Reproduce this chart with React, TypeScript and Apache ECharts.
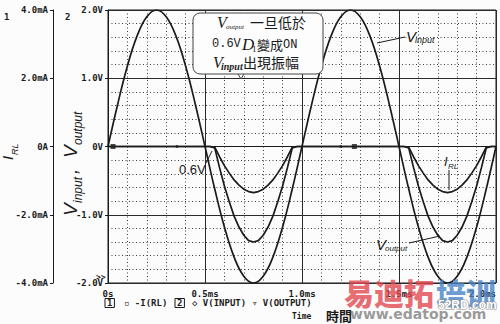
import React, { useEffect, useRef } from "react";
import * as echarts from "echarts";

// ---- data ----
const TIME_MS = [
  0, 0.05, 0.1, 0.15, 0.2, 0.25, 0.3, 0.35, 0.4, 0.45, 0.5, 0.55, 0.6, 0.65, 0.7, 0.75, 0.8, 0.85, 0.9, 0.95,
  1.0, 1.05, 1.1, 1.15, 1.2, 1.25, 1.3, 1.35, 1.4, 1.45, 1.5, 1.55, 1.6, 1.65, 1.7, 1.75, 1.8, 1.85, 1.9, 1.95, 2.0,
];
const V_INPUT = [
  0, 0.62, 1.18, 1.62, 1.9, 2.0, 1.9, 1.62, 1.18, 0.62, 0, -0.62, -1.18, -1.62, -1.9, -2.0, -1.9, -1.62, -1.18, -0.62,
  0, 0.62, 1.18, 1.62, 1.9, 2.0, 1.9, 1.62, 1.18, 0.62, 0, -0.62, -1.18, -1.62, -1.9, -2.0, -1.9, -1.62, -1.18, -0.62, 0,
];
const LOBE_TIME_MS = [
  0, 0.5, 0.525, 0.55, 0.575, 0.6, 0.625, 0.65, 0.675, 0.7, 0.725, 0.75, 0.775, 0.8, 0.825, 0.85, 0.875, 0.9, 0.925, 0.95, 0.975,
  1.5, 1.525, 1.55, 1.575, 1.6, 1.625, 1.65, 1.675, 1.7, 1.725, 1.75, 1.775, 1.8, 1.825, 1.85, 1.875, 1.9, 1.925, 1.95, 1.975, 2.0,
];
const V_OUTPUT = [
  0, 0, 0, -0.02, -0.31, -0.58, -0.81, -1.02, -1.18, -1.3, -1.38, -1.4, -1.38, -1.3, -1.18, -1.02, -0.81, -0.58, -0.31, -0.02, 0,
  0, 0, -0.02, -0.31, -0.58, -0.81, -1.02, -1.18, -1.3, -1.38, -1.4, -1.38, -1.3, -1.18, -1.02, -0.81, -0.58, -0.31, -0.02, 0, 0,
];
const I_RL_MA = [
  0, 0, 0, -0.02, -0.3, -0.56, -0.78, -0.98, -1.13, -1.25, -1.32, -1.35, -1.32, -1.25, -1.13, -0.98, -0.78, -0.56, -0.3, -0.02, 0,
  0, 0, -0.02, -0.3, -0.56, -0.78, -0.98, -1.13, -1.25, -1.32, -1.35, -1.32, -1.25, -1.13, -0.98, -0.78, -0.56, -0.3, -0.02, 0, 0,
];
const X_TICK_LABELS = ["0s", "0.5ms", "1.0ms", "1.5ms", "2.0ms"];
const V_TICK_LABELS = ["-2.0V", "-1.0V", "0V", "1.0V", "2.0V"];
const I_TICK_LABELS = ["-4.0mA", "-2.0mA", "0A", "2.0mA", "4.0mA"];
const MARKER_TIME_MS = [0.026, 0.356, 1.2, 1.27];
const MARKER_SHAPES = ["rect", "circle", "circle", "rect"];

const INK = "#1b1b1b";
const MONO = "'DejaVu Sans Mono', monospace";
const SERIF = "'Liberation Serif', serif";
const SANS = "'Liberation Sans', sans-serif";
const CJK = "'Noto Sans CJK TC', sans-serif";

function txt(text: string, x: number, y: number, font: string, extra: any = {}) {
  return {
    type: "text",
    z: 100,
    style: { text, x, y, font, fill: INK, align: "left", verticalAlign: "middle", ...extra },
  };
}

export default function App() {
  const ref = useRef<HTMLDivElement>(null);
  useEffect(() => {
    document.body.style.margin = "0";
    const chart = echarts.init(ref.current!, null, { renderer: "svg" });
    const lineStyle = { color: INK, width: 1.7 };
    const minorGrid = { show: true, lineStyle: { color: "#3a3a3a", width: 1, type: [1, 2.5] } };
    const option: any = {
      animation: false,
      backgroundColor: "#fcfcfc",
      grid: { left: 108, right: 4, top: 10, bottom: 41, show: true, borderColor: INK, borderWidth: 1 },
      xAxis: {
        type: "value",
        min: 0,
        max: 2,
        interval: 0.5,
        axisLine: { show: true, lineStyle: { color: INK } },
        axisTick: { show: false },
        axisLabel: {
          margin: 6,
          color: INK,
          fontFamily: MONO,
          fontWeight: "bold",
          fontSize: 9,
          alignMaxLabel: "right",
          formatter: (v: number) => X_TICK_LABELS[Math.round(v / 0.5)],
        },
        splitLine: { show: true, lineStyle: { color: "#2a2a2a", width: 1 } },
        minorTick: { show: false, splitNumber: 5 },
        minorSplitLine: minorGrid,
      },
      yAxis: [
        {
          type: "value",
          min: -2,
          max: 2,
          interval: 1,
          position: "left",
          axisLine: { show: true, lineStyle: { color: INK, width: 1 } },
          axisTick: { show: true, length: 3, lineStyle: { color: INK } },
          axisLabel: {
            margin: 5,
            color: INK,
            fontFamily: MONO,
            fontWeight: "bold",
            fontSize: 9,
            formatter: (v: number) => V_TICK_LABELS[Math.round(v) + 2],
          },
          splitLine: { show: true, lineStyle: { color: "#2a2a2a", width: 1 } },
          minorTick: { show: false, splitNumber: 5 },
          minorSplitLine: minorGrid,
        },
        {
          type: "value",
          min: -4,
          max: 4,
          interval: 2,
          position: "left",
          offset: 55,
          axisLine: { show: true, lineStyle: { color: INK, width: 1 } },
          axisTick: { show: true, length: 3, lineStyle: { color: INK } },
          axisLabel: {
            margin: 5,
            color: INK,
            fontFamily: MONO,
            fontWeight: "bold",
            fontSize: 9,
            formatter: (v: number) => I_TICK_LABELS[Math.round(v / 2) + 2],
          },
          splitLine: { show: false },
        },
      ],
      series: [
        {
          name: "V(INPUT)",
          type: "line",
          yAxisIndex: 0,
          smooth: 0.4,
          showSymbol: false,
          lineStyle,
          data: TIME_MS.map((t, i) => [t, V_INPUT[i]]),
        },
        {
          name: "V(OUTPUT)",
          type: "line",
          yAxisIndex: 0,
          showSymbol: false,
          lineStyle,
          data: LOBE_TIME_MS.map((t, i) => [t, V_OUTPUT[i]]),
        },
        {
          name: "-I(RL)",
          type: "line",
          yAxisIndex: 1,
          showSymbol: false,
          lineStyle,
          data: LOBE_TIME_MS.map((t, i) => [t, I_RL_MA[i]]),
        },
        {
          name: "markers",
          type: "scatter",
          yAxisIndex: 0,
          itemStyle: { color: INK },
          z: 5,
          data: MARKER_TIME_MS.map((t, i) => ({
            value: [t, 0],
            symbol: MARKER_SHAPES[i],
            symbolSize: MARKER_SHAPES[i] === "rect" ? 5 : 3,
          })),
        },
      ],
      graphic: [
        // axis numbers and names
        txt("1", 4, 17, `bold 9px ${MONO}`),
        txt("2", 65, 17, `bold 9px ${MONO}`),
        txt(">>", 96, 277, `bold 8px ${MONO}`),
        {
          type: "group",
          x: 15,
          y: 160,
          rotation: Math.PI / 2,
          z: 100,
          children: [
            { type: "text", style: { text: "I", x: 0, y: 0, font: `italic 15px ${SANS}`, fill: INK, verticalAlign: "bottom" } },
            { type: "text", style: { text: "RL", x: 5, y: 4, font: `italic 9px ${SANS}`, fill: INK, verticalAlign: "bottom" } },
          ],
        },
        {
          type: "group",
          x: 80,
          y: 216,
          rotation: Math.PI / 2,
          z: 100,
          children: [
            { type: "text", style: { text: "V", x: 0, y: 0, font: `italic 19px ${SANS}`, fill: INK, verticalAlign: "bottom" } },
            { type: "text", style: { text: "input", x: 13, y: 4, font: `italic 12px ${SANS}`, fill: INK, verticalAlign: "bottom" } },
            { type: "text", style: { text: ",", x: 42, y: 0, font: `italic 19px ${SANS}`, fill: INK, verticalAlign: "bottom" } },
            { type: "text", style: { text: "V", x: 58, y: 0, font: `italic 19px ${SANS}`, fill: INK, verticalAlign: "bottom" } },
            { type: "text", style: { text: "output", x: 71, y: 4, font: `italic 12px ${SANS}`, fill: INK, verticalAlign: "bottom" } },
          ],
        },
        // callout box
        {
          type: "rect",
          z: 90,
          shape: { x: 193, y: 13, width: 130, height: 61, r: 7 },
          style: { fill: "#fdfdfd", stroke: "#444", lineWidth: 1 },
        },
        {
          type: "polyline",
          z: 91,
          shape: { points: [[238, 74], [241, 79], [244, 74]] },
          style: { stroke: "#444", fill: "none", lineWidth: 1 },
        },
        txt("V", 217, 22, `italic 16px ${SERIF}`),
        txt("output", 226, 27, `italic 7px ${SERIF}`),
        txt("一旦低於", 250, 22, `14px ${CJK}`),
        txt("0.6V", 212, 44, `12px 'Liberation Mono', monospace`),
        txt("D", 242, 44, `italic 17px ${SERIF}`),
        txt("1", 252, 49, `9px ${SERIF}`),
        txt("變成", 257, 44, `13px ${CJK}`),
        txt("ON", 283, 45, `12px 'Liberation Mono', monospace`),
        txt("V", 213, 62, `italic 16px ${SERIF}`),
        txt("input", 221, 66, `italic bold 10px ${SERIF}`),
        txt("出現振幅", 243, 62, `14px ${CJK}`),
        // curve annotations
        { type: "line", z: 95, shape: { x1: 377, y1: 43, x2: 405, y2: 37 }, style: { stroke: INK, lineWidth: 1 } },
        txt("V", 406, 36, `italic 15px ${SANS}`),
        txt("input", 415, 40, `italic 9px ${SANS}`),
        txt("I", 444, 161, `italic 13px ${SANS}`),
        txt("RL", 448, 166, `italic 8px ${SANS}`),
        { type: "line", z: 95, shape: { x1: 449, y1: 170, x2: 449, y2: 190 }, style: { stroke: INK, lineWidth: 1 } },
        txt("V", 376, 244, `italic 15px ${SANS}`),
        txt("output", 385, 248, `italic 8px ${SANS}`),
        { type: "line", z: 95, shape: { x1: 409, y1: 243, x2: 440, y2: 236 }, style: { stroke: INK, lineWidth: 1 } },
        txt("0.6V", 179, 169, `13px ${SANS}`),
        { type: "line", z: 95, shape: { x1: 206, y1: 163, x2: 212, y2: 151 }, style: { stroke: INK, lineWidth: 1 } },
        // legend row
        txt("1", 105, 303, `bold 9px ${MONO}`, { borderColor: INK, borderWidth: 1, padding: [0, 2, 0, 2] }),
        txt("▫ -I(RL)", 124, 303, `bold 9px ${MONO}`),
        txt("2", 175, 303, `bold 9px ${MONO}`, { borderColor: INK, borderWidth: 1, padding: [0, 2, 0, 2] }),
        txt("◇ V(INPUT)", 192, 303, `bold 9px ${MONO}`),
        txt("▿ V(OUTPUT)", 252, 303, `bold 9px ${MONO}`),
        txt("Time", 292, 316, `bold 8px ${MONO}`),
        txt("時間", 326, 315, `bold 13px ${CJK}`),
        // watermark
        txt("易迪拓", 344, 292, `900 30px 'Noto Sans CJK SC'`, { fill: "rgba(226,70,80,0.8)" }),
        txt("培训", 436, 292, `900 30px 'Noto Sans CJK SC'`, { fill: "rgba(70,130,200,0.8)" }),
        txt("52RD.com", 438, 305, `bold 12px ${SANS}`, { fill: "#ffffff", stroke: "#888", lineWidth: 1 }),
        txt("www.edatop.com", 350, 314, `bold 14px 'DejaVu Sans'`, { fill: "rgba(110,110,110,0.7)" }),
      ],
    };
    chart.setOption(option);
    return () => chart.dispose();
  }, []);
  return <div ref={ref} style={{ position: "fixed", left: 0, top: 0, width: 500, height: 324 }} />;
}
